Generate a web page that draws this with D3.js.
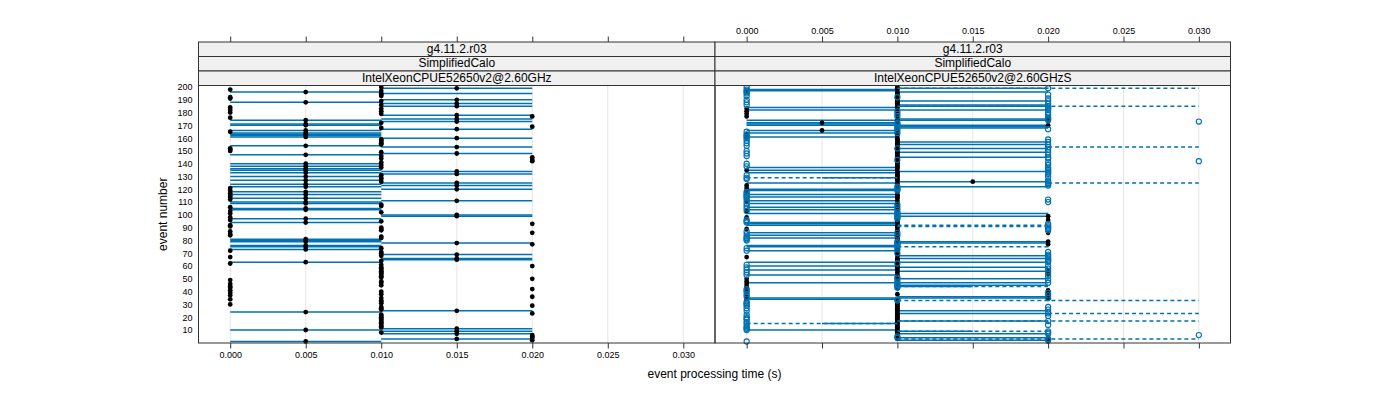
<!DOCTYPE html>
<html><head><meta charset="utf-8">
<script src="https://cdn.jsdelivr.net/npm/d3@7"></script>
<style>body{margin:0;background:#fff}svg text{font-family:"Liberation Sans",Arial,Helvetica,sans-serif;fill:#000}</style>
</head><body><svg id="chart" width="1400" height="400"></svg>
<script>
// ---------- data (values listed from event 200 down to event 1) ----------
const stripTop = "g4.11.2.r03";
const stripMid = "SimplifiedCalo";
const panelNames = ["IntelXeonCPUE52650v2@2.60GHz", "IntelXeonCPUE52650v2@2.60GHzS"];
const xTicks = [0, 0.005, 0.01, 0.015, 0.02, 0.025, 0.03];
const xTickLabels = ["0.000","0.005","0.010","0.015","0.020","0.025","0.030"];
const yTicks = [10,20,30,40,50,60,70,80,90,100,110,120,130,140,150,160,170,180,190,200];
const xTitle = "event processing time (s)";
const yTitle = "event number";

// left panel: point per event (events 200 -> 1)
const leftTimes = [
 .01,.015,0,.01,.005,.01,.01,.01,0,0,
 .015,.01,.005,.015,.01,.015,0,.01,0,.01,
 0,.01,.015,.02,0,.015,.005,.015,.01,.005,
 .005,.02,.01,.015,.005,0,.005,.005,.005,.005,
 .015,.01,.01,.01,.01,.01,.005,.015,0,0,
 0,.01,.015,.005,.01,.02,.01,.02,.02,.01,
 .005,.01,.005,.01,.005,.005,.015,.005,.015,.01,
 .005,.01,.01,.005,.01,.015,.005,.015,.005,0,
 .015,0,.005,0,.005,0,0,.005,0,.015,
 .005,.005,.01,.01,0,.005,.005,0,.01,0,
 .015,.015,0,.005,0,.01,.005,.02,0,0,
 .01,.01,.01,0,.02,0,0,.01,.01,.005,
 .005,.005,.015,.02,.005,.005,.01,.005,0,.01,
 .01,.015,.01,0,.015,.015,.01,.005,0,.01,
 .02,.01,.01,.01,.01,.01,.01,.01,.01,.01,
 .02,0,.01,.01,0,.01,0,0,.02,0,
 .01,0,.01,0,.02,.01,0,.01,.01,.01,
 0,.02,.01,.01,.01,.015,.005,.02,.01,.01,
 .01,.01,.01,.01,.01,.01,.01,.01,.01,.015,
 .005,.015,.01,.015,.02,.02,.02,.015,.02,.005
];
// left panel: [event, low, high]
const leftRanges = [
 [199,.01,.02],[196,0,.01],[195,.01,.02],[190,.01,.02],[188,0,.01],[187,.01,.02],[185,.01,.02],
 [178,.01,.02],[175,.01,.02],[174,0,.01],[173,.01,.02],[171,0,.01],[170,0,.01],[167,.01,.02],
 [166,0,.01],[164,0,.01],[163,0,.01],[162,0,.01],[161,0,.01],[160,.01,.02],[154,0,.01],
 [153,.01,.02],[148,.01,.02],[147,0,.01],[140,0,.01],[138,0,.01],[136,0,.01],[135,0,.01],
 [134,.01,.02],[133,0,.01],[132,.01,.02],[130,0,.01],[127,0,.01],[125,.01,.02],[124,0,.01],
 [123,.01,.02],[122,0,.01],[120,.01,.02],[118,0,.01],[116,0,.01],[113,0,.01],[111,.01,.02],
 [110,0,.01],[109,0,.01],[105,0,.01],[104,0,.01],[100,.01,.02],[99,.01,.02],[97,0,.01],
 [94,0,.01],[81,0,.01],[80,0,.01],[79,0,.01],[78,.01,.02],[76,0,.01],[75,0,.01],[73,0,.01],
 [69,.01,.02],[66,.01,.02],[65,.01,.02],[63,0,.01],[25,.01,.02],[24,0,.01],[11,.01,.02],
 [10,0,.01],[9,.01,.02],[7,.01,.02],[3,.01,.02],[1,0,.01]
];

// right panel, filled series (events 200 -> 1)
const rightTimesA = [
 .01,.01,.01,0,.01,.01,.01,.01,.01,.01,
 .01,.01,.01,.01,.01,.01,.01,0,.01,0,
 .01,0,.01,0,.02,.01,.02,.01,.005,.01,
 .02,.01,.01,.01,.005,.01,.01,0,.01,0,
 .01,.01,.01,.01,.01,.01,.01,.01,.01,.01,
 .01,.01,.01,.01,.01,.01,.01,.01,.01,.01,
 .01,.01,.01,.01,.01,0,.01,.01,.01,.01,
 .01,.01,.01,.01,.015,.01,.01,0,.01,0,
 .01,0,.01,0,.01,.01,.01,.01,0,.01,
 0,.01,.01,.01,.01,.01,.01,0,.01,.01,
 .01,.02,0,.01,.02,.01,.01,.01,.01,.01,
 .01,0,.01,.01,.02,.01,.01,.01,.01,.01,
 .01,.02,.01,.02,.01,.01,.01,.01,.01,.01,
 .01,.01,.01,0,.01,.01,.01,.01,.01,.01,
 .01,.01,.01,.01,.02,.01,.02,.01,.01,.01,
 0,.01,0,.01,0,.01,0,.01,0,.02,
 0,.02,.01,.02,0,.02,0,.01,.01,.01,
 .01,.01,.01,.01,.01,.01,.01,.01,.01,.01,
 .01,.01,.01,.01,.01,.01,.01,.01,.01,.01,
 .01,.01,.01,.01,.01,.01,.02,.01,.02,.02
];
const rightRangesA = [
 [199,.01,.02],[198,0,.01],[197,0,.01],[196,.01,.02],[189,.01,.02],[186,.01,.02],[185,.01,.02],
 [184,0,.01],[182,0,.02],[175,.01,.02],[174,0,.02],[172,0,.01],[171,0,.01],[170,0,.02],
 [169,.01,.02],[168,.01,.02],[166,0,.01],[164,0,.01],[161,0,.01],[157,.01,.02],[155,.01,.02],
 [152,.01,.02],[149,.01,.02],[145,.01,.02],[137,0,.01],[135,0,.01],[134,.01,.02],[133,0,.01],
 [129,.005,.01],[126,.01,.02],[125,0,.01],[122,.01,.02],[120,0,.01],[119,0,.01],[116,0,.01],
 [114,0,.01],[111,0,.01],[109,0,.01],[106,0,.01],[104,0,.01],[101,0,.02],[99,.01,.02],
 [94,0,.01],[93,0,.01],[92,0,.01],[86,0,.01],[84,0,.01],[82,0,.01],[79,.01,.02],[78,.01,.02],
 [76,0,.01],[75,0,.01],[72,0,.01],[68,.01,.02],[66,.01,.02],[63,0,.02],[60,0,.01],[59,.01,.02],
 [57,0,.01],[56,.01,.02],[53,0,.01],[50,.01,.02],[47,0,.02],[45,.01,.02],[44,.01,.015],
 [36,.01,.02],[35,0,.02],[34,0,.01],[25,.01,.02],[23,.01,.02],[17,.01,.02],[15,.005,.01],
 [10,0,.01],[9,.01,.015],[7,.01,.02],[4,.01,.02],[2,.01,.02]
];

// right panel, open series (events 200 -> 1)
const rightTimesB = [
 0,.02,0,0,0,0,.02,0,.01,.02,
 0,.02,0,.02,0,.02,.02,.02,.02,.01,
 .02,.01,.02,.01,.02,.02,.02,.03,.01,.01,
 .01,.01,.01,.02,.01,0,.01,0,0,0,
 0,.02,0,.02,0,.02,0,.02,.01,.02,
 0,.02,0,.02,0,.02,.02,.01,.03,.02,
 0,.02,0,.02,.02,.02,.02,.02,.02,0,
 .02,0,0,.02,.02,.02,.02,.02,.01,.01,
 .01,.01,0,0,0,0,0,0,.02,0,
 .02,0,.01,0,.01,0,.01,0,.01,.01,
 .01,.01,.01,.01,0,0,0,.02,.02,.02,
 .02,.02,.02,0,.01,0,.01,0,0,0,
 0,.01,.01,.01,.01,.01,0,.01,0,.02,
 .01,.02,.02,.02,.02,.02,.02,.02,.01,0,
 .02,0,.02,0,.02,0,.02,0,.02,.01,
 .01,.02,.01,.02,.01,.01,.01,.01,0,0,
 0,.02,0,.02,0,.02,.01,.01,0,0,
 0,0,.02,0,.02,0,.02,.02,0,.02,
 0,0,0,.02,0,0,.02,0,0,0,
 0,.02,.02,.02,.03,.01,.01,.02,.02,0
];
const rightRangesB = [
 [199,.01,.03],[185,.01,.03],[153,.02,.03],[129,0,.01],[125,.02,.03],[92,.01,.02],[91,.01,.02],
 [75,.01,.02],[44,.01,.02],[33,.01,.03],[23,.02,.03],[17,.01,.03],[15,0,.01],[9,.01,.02],[3,.01,.03]
];

// ---------- layout ----------
const svg = d3.select("#chart");
const blue = "#0072B2";
const plotTop = 85.5, plotBottom = 343, stripH = 14.5;
const panels = [
  {x0: 198.5, x1: 715, name: panelNames[0], topLabels: false, bottomLabels: true,
   layers: [{times: leftTimes, ranges: leftRanges, kind: "filled"}]},
  {x0: 715, x1: 1230.5, name: panelNames[1], topLabels: true, bottomLabels: false,
   layers: [{times: rightTimesA, ranges: rightRangesA, kind: "filled"},
            {times: rightTimesB, ranges: rightRangesB, kind: "open"}]}
];
const y = d3.scaleLinear().domain([-0.16, 201.17]).range([plotBottom, plotTop]);
const eventOf = i => 200 - i;

panels.forEach(p => {
  const x = d3.scaleLinear().domain([-0.0021, 0.0321]).range([p.x0, p.x1]);
  const g = svg.append("g");
  // grid
  g.selectAll("line.grid").data(xTicks).join("line")
    .attr("x1", d => x(d)).attr("x2", d => x(d))
    .attr("y1", plotTop).attr("y2", plotBottom)
    .attr("stroke", "#e6e6e6").attr("stroke-width", 1);
  p.layers.forEach(L => {
    const lg = g.append("g");
    lg.selectAll("line.rng").data(L.ranges).join("line")
      .attr("x1", d => x(d[1])).attr("x2", d => x(d[2]))
      .attr("y1", d => y(d[0])).attr("y2", d => y(d[0]))
      .attr("stroke", blue).attr("stroke-width", 1.5)
      .attr("stroke-dasharray", L.kind === "open" ? "4,3" : null);
    const pts = lg.selectAll("circle").data(L.times).join("circle")
      .attr("cx", d => x(d)).attr("cy", (d, i) => y(eventOf(i)));
    if (L.kind === "filled") pts.attr("r", 2.4).attr("fill", "#000");
    else pts.attr("r", 2.6).attr("fill", "none").attr("stroke", blue).attr("stroke-width", 1.1);
  });
  // panel border
  g.append("rect").attr("x", p.x0).attr("y", plotTop).attr("width", p.x1 - p.x0)
    .attr("height", plotBottom - plotTop).attr("fill", "none").attr("stroke", "#333");
  // strips
  [stripTop, stripMid, p.name].forEach((t, k) => {
    const sy = plotTop - stripH * (3 - k);
    g.append("rect").attr("x", p.x0).attr("y", sy).attr("width", p.x1 - p.x0).attr("height", stripH)
      .attr("fill", "#f0f0f0").attr("stroke", "#333");
    g.append("text").attr("x", (p.x0 + p.x1) / 2).attr("y", sy + stripH / 2 + 0.5)
      .attr("text-anchor", "middle").attr("dominant-baseline", "middle")
      .attr("font-size", 12).text(t);
  });
  const stripTopY = plotTop - 3 * stripH;
  // top axis
  const topAxis = d3.axisTop(x).tickValues(xTicks).tickSize(5.5).tickPadding(3)
    .tickFormat((d, i) => p.topLabels ? xTickLabels[i] : "");
  const ta = g.append("g").attr("transform", `translate(0,${stripTopY})`).call(topAxis);
  // bottom axis
  const botAxis = d3.axisBottom(x).tickValues(xTicks).tickSize(5.5).tickPadding(3)
    .tickFormat((d, i) => p.bottomLabels ? xTickLabels[i] : "");
  const ba = g.append("g").attr("transform", `translate(0,${plotBottom})`).call(botAxis);
  [ta, ba].forEach(a => {
    a.select(".domain").remove();
    a.selectAll(".tick line").attr("stroke", "#333");
    a.selectAll(".tick text").attr("font-size", 9).attr("fill", "#000")
      .style("font-family", '"Liberation Sans",Arial,sans-serif');
  });
});

// y axis labels (left)
const ya = svg.append("g").attr("transform", "translate(198.5,0)")
  .call(d3.axisLeft(y).tickValues(yTicks).tickSize(0).tickPadding(6).tickFormat(d3.format("d")));
ya.select(".domain").remove();
ya.selectAll(".tick text").attr("font-size", 9).attr("fill", "#000")
  .style("font-family", '"Liberation Sans",Arial,sans-serif');

// titles
svg.append("text").attr("x", 714.5).attr("y", 378).attr("text-anchor", "middle")
  .attr("font-size", 12).text(xTitle);
svg.append("text").attr("transform", `translate(167,${(plotTop + plotBottom) / 2}) rotate(-90)`)
  .attr("text-anchor", "middle").attr("font-size", 12).text(yTitle);
</script></body></html>
